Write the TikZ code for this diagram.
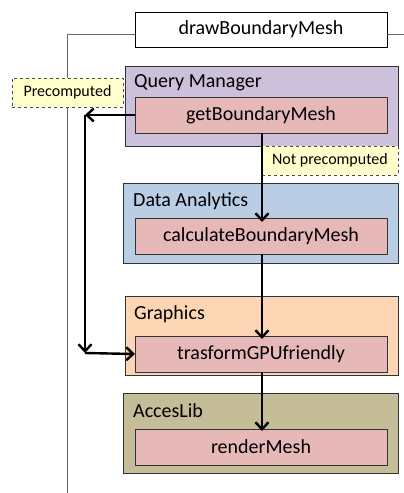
\documentclass[tikz,border=0pt]{standalone}
\usepackage{fontspec}
\setmainfont{Carlito}
\usetikzlibrary{arrows.meta}
\definecolor{qmfill}{HTML}{CCC0DA}
\definecolor{dafill}{HTML}{B9CDE5}
\definecolor{grfill}{HTML}{FCD5B5}
\definecolor{alfill}{HTML}{C4BD97}
\definecolor{fnfill}{HTML}{E6B9B8}
\definecolor{notefill}{HTML}{FFFFCC}
\begin{document}
\begin{tikzpicture}[x=1pt,y=-1pt,
  container/.style={draw=black!80, line width=0.8pt, inner sep=0, outer sep=0, anchor=north west},
  fnbox/.style={draw=black!80, line width=0.8pt, fill=fnfill, inner sep=0, outer sep=0, anchor=north west,
    minimum width=252pt, minimum height=36pt, font=\fontsize{20}{24}\selectfont},
  title/.style={anchor=west, inner sep=0, font=\fontsize{20}{24}\selectfont},
  note/.style={draw=black!70, dashed, line width=0.7pt, fill=notefill, inner sep=0, outer sep=0, anchor=north west,
    font=\fontsize{16}{19}\selectfont},
  flow/.style={line width=2.4pt, -{Straight Barb[length=7pt,width=13pt,line width=2.4pt]}},
  lifeline/.style={draw=black!60, line width=0.8pt}]
\useasboundingbox (0,0) rectangle (404,493);
% lifeline
\node[draw=black, line width=0.8pt, fill=white, inner sep=0, outer sep=0, anchor=north west,
  minimum width=252pt, minimum height=35pt, font=\fontsize{20}{24}\selectfont] (dbm) at (135,12) {drawBoundaryMesh};
\coordinate (ll) at (67,34);
\coordinate (llend) at (67,493);
\coordinate (rr) at (404,34);
\draw[lifeline] (dbm.west |- ll) -- (ll) -- (llend);
\draw[lifeline] (dbm.east |- rr) -- (rr);
% containers
\node[container, fill=qmfill, minimum width=273pt, minimum height=80pt] (qm) at (125,66) {};
\node[container, fill=dafill, minimum width=275pt, minimum height=80pt] (da) at (123,183) {};
\node[container, fill=grfill, minimum width=273pt, minimum height=79pt] (gr) at (125,296) {};
\node[container, fill=alfill, minimum width=275pt, minimum height=80pt] (al) at (123,393) {};
\node[title] (qmt) at (134,83) {Query Manager};
\node[title] (dat) at (133,201) {Data Analytics};
\node[title] (grt) at (134,314) {Graphics};
\node[title] (alt) at (133,411) {AccesLib};
% functions
\node[fnbox] (get) at (135,97) {getBoundaryMesh};
\node[fnbox] (calc) at (135,218) {calculateBoundaryMesh};
\node[fnbox] (trans) at (135,336) {trasformGPUfriendly};
\node[fnbox] (rend) at (135,429) {renderMesh};
% notes
\node[note, minimum width=111pt, minimum height=29pt] (pre) at (12,78) {Precomputed};
\node[note, minimum width=136pt, minimum height=29pt] (notpre) at (262,146) {Not precomputed};
% connectors
\coordinate (p1) at (85,115);
\coordinate (p2) at (85,353);
\coordinate (c1) at (262,133);
\draw[flow] (get.west) -- (p1);
\draw[flow] (p1) -- (p2);
\draw[flow] (p2) -- (trans.west);
\draw[flow] (c1) -- ([yshift=-4pt]calc.north -| c1);
\draw[flow] (calc.south -| c1) -- ([yshift=-3pt]trans.north -| c1);
\draw[flow] (trans.south -| c1) -- ([yshift=-2pt]rend.north -| c1);
\end{tikzpicture}
\end{document}
